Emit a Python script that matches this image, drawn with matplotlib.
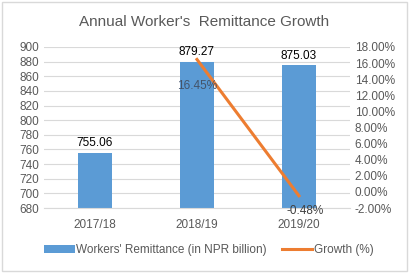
import matplotlib
matplotlib.use("Agg")
from matplotlib import pyplot as plt
from matplotlib.patches import Rectangle

plt.rcParams['font.family'] = ['Liberation Sans', 'DejaVu Sans']

years = ["2017/18", "2018/19", "2019/20"]
remit = [755.06, 879.27, 875.03]
growth_years = ["2018/19", "2019/20"]
growth = [16.45, -0.48]

grey = "#595959"
fig = plt.figure(figsize=(4.09, 2.73), dpi=100)
fig.patches.append(Rectangle((0.004, 0.006), 0.99, 0.988, transform=fig.transFigure,
                             fill=False, edgecolor="#D9D9D9", linewidth=1))
ax = fig.add_axes([0.1076, 0.238, 0.748, 0.59])
x = range(len(years))
bars = ax.bar(x, remit, width=0.33, color="#5B9BD5", zorder=2,
              label="Workers' Remittance (in NPR billion)")
ax.set_ylim(680, 900)
ax.set_yticks(range(680, 901, 20))
ax.set_xlim(-0.5, 2.5)
ax.set_xticks(list(x))
ax.set_xticklabels(years)
ax.grid(axis="y", color="#D9D9D9", linewidth=0.8, zorder=0)
for s in ax.spines.values():
    s.set_visible(False)
ax.spines["bottom"].set_visible(True)
ax.spines["bottom"].set_color("#D9D9D9")
ax.tick_params(length=0, colors=grey, labelsize=8.5)
ax.tick_params(axis="x", pad=8)
for i, v in enumerate(remit):
    ax.text(i, v + 5, "%.2f" % v, ha="center", va="bottom", fontsize=8.5, color="#000000")

ax2 = ax.twinx()
gx = [years.index(y) for y in growth_years]
ax2.plot(gx, growth, color="#ED7D31", linewidth=2.2, label="Growth (%)", zorder=3)
ax2.set_ylim(-2, 18)
ax2.set_yticks(range(-2, 19, 2))
ax2.set_yticklabels(["%.2f%%" % v for v in range(-2, 19, 2)])
for s in ax2.spines.values():
    s.set_visible(False)
ax2.tick_params(length=0, colors=grey, labelsize=8.5)
ax2.text(gx[0], growth[0] - 3.3, "%.2f%%" % growth[0], ha="center", va="center",
         fontsize=8.5, color="#44546A")
ax2.text(gx[1] + 0.06, growth[1] - 1.9, "%.2f%%" % growth[1], ha="center", va="center",
         fontsize=8.5, color="#404040")

fig.text(0.5, 0.918, "Annual Worker's  Remittance Growth", ha="center", va="center",
         fontsize=11, color=grey)

h1, l1 = ax.get_legend_handles_labels()
h2, l2 = ax2.get_legend_handles_labels()
fig.legend(h1 + h2, l1 + l2, loc="center", bbox_to_anchor=(0.51, 0.085), ncol=2,
           frameon=False, fontsize=8.5, labelcolor=grey, handlelength=2.6,
           handletextpad=0.1, columnspacing=1.3)

fig.savefig("out.png", dpi=100)
